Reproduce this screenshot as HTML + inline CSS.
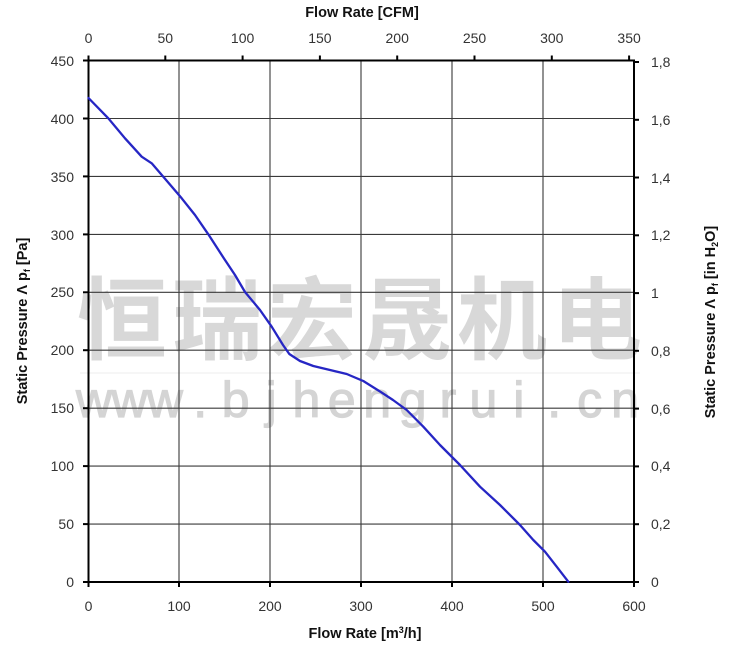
<!DOCTYPE html>
<html><head><meta charset="utf-8"><style>
html,body{margin:0;padding:0;background:#fff;}
svg{display:block;}
text{font-family:"Liberation Sans",Arial,sans-serif;}
</style></head><body>
<svg width="750" height="646" viewBox="0 0 750 646" xmlns="http://www.w3.org/2000/svg">
<rect width="750" height="646" fill="#fff"/>
<!-- watermark -->
<text y="352" font-size="90" font-weight="bold" fill="#d8d8d8" text-anchor="middle" style="font-family:'Noto Sans CJK SC','WenQuanYi Zen Hei',sans-serif" x="122 217 312 407 502 597">恒瑞宏晟机电</text>
<line x1="80" y1="373" x2="640" y2="373" stroke="#ececec" stroke-width="1"/>
<text y="417" font-size="50" fill="#d4d4d4" stroke="#d4d4d4" stroke-width="1.2" text-anchor="middle" x="94 129.4 164.8 200.2 235.6 271 306.4 341.8 377.2 412.6 448 483.4 518.8 554.2 589.6 625">www.bjhengrui.cn</text>
<!-- grid -->
<g stroke="#3a3a3a" stroke-width="1.1">
<line x1="179" y1="60.5" x2="179" y2="582"/>
<line x1="270" y1="60.5" x2="270" y2="582"/>
<line x1="361" y1="60.5" x2="361" y2="582"/>
<line x1="452" y1="60.5" x2="452" y2="582"/>
<line x1="543" y1="60.5" x2="543" y2="582"/>
<line x1="88" y1="524.1" x2="634" y2="524.1"/>
<line x1="88" y1="466.1" x2="634" y2="466.1"/>
<line x1="88" y1="408.2" x2="634" y2="408.2"/>
<line x1="88" y1="350.2" x2="634" y2="350.2"/>
<line x1="88" y1="292.3" x2="634" y2="292.3"/>
<line x1="88" y1="234.4" x2="634" y2="234.4"/>
<line x1="88" y1="176.4" x2="634" y2="176.4"/>
<line x1="88" y1="118.5" x2="634" y2="118.5"/>
</g>
<!-- frame -->
<rect x="88.5" y="60.5" width="545.5" height="521.5" fill="none" stroke="#000" stroke-width="2"/>
<g stroke="#000" stroke-width="2">
<line x1="83" y1="60.5" x2="88" y2="60.5"/>
<line x1="83" y1="118.5" x2="88" y2="118.5"/>
<line x1="83" y1="176.4" x2="88" y2="176.4"/>
<line x1="83" y1="234.4" x2="88" y2="234.4"/>
<line x1="83" y1="292.3" x2="88" y2="292.3"/>
<line x1="83" y1="350.2" x2="88" y2="350.2"/>
<line x1="83" y1="408.2" x2="88" y2="408.2"/>
<line x1="83" y1="466.1" x2="88" y2="466.1"/>
<line x1="83" y1="524.1" x2="88" y2="524.1"/>
<line x1="83" y1="582" x2="88" y2="582"/>
<line x1="88.5" y1="582" x2="88.5" y2="587"/>
<line x1="179" y1="582" x2="179" y2="587"/>
<line x1="270" y1="582" x2="270" y2="587"/>
<line x1="361" y1="582" x2="361" y2="587"/>
<line x1="452" y1="582" x2="452" y2="587"/>
<line x1="543" y1="582" x2="543" y2="587"/>
<line x1="634" y1="582" x2="634" y2="587"/>
<line x1="88.5" y1="55.5" x2="88.5" y2="60.5"/>
<line x1="165.3" y1="55.5" x2="165.3" y2="60.5"/>
<line x1="242.6" y1="55.5" x2="242.6" y2="60.5"/>
<line x1="319.9" y1="55.5" x2="319.9" y2="60.5"/>
<line x1="397.2" y1="55.5" x2="397.2" y2="60.5"/>
<line x1="474.5" y1="55.5" x2="474.5" y2="60.5"/>
<line x1="551.8" y1="55.5" x2="551.8" y2="60.5"/>
<line x1="629.1" y1="55.5" x2="629.1" y2="60.5"/>
<line x1="634" y1="62" x2="639" y2="62"/>
<line x1="634" y1="119.8" x2="639" y2="119.8"/>
<line x1="634" y1="177.5" x2="639" y2="177.5"/>
<line x1="634" y1="235.3" x2="639" y2="235.3"/>
<line x1="634" y1="293.1" x2="639" y2="293.1"/>
<line x1="634" y1="350.8" x2="639" y2="350.8"/>
<line x1="634" y1="408.6" x2="639" y2="408.6"/>
<line x1="634" y1="466.4" x2="639" y2="466.4"/>
<line x1="634" y1="524.2" x2="639" y2="524.2"/>
<line x1="634" y1="582" x2="639" y2="582"/>
</g>
<!-- curve -->
<polyline fill="none" stroke="#2626c4" stroke-width="2.3" stroke-linejoin="round" stroke-linecap="round"
points="88.5,98 108.3,118.3 125,138.3 141.7,156.7 151.7,163.3 163.3,176.7 181.7,198.3 195,215 208.3,234.3 224,258.5 235,275 245,292 260,310 271.7,326.7 283,345 289.3,354 300,361 313.3,366 330,370 346.7,374 363.3,381 380,391.5 393,400 406.7,410 423.3,426.7 440,445 460,465 480,486.7 500,505 520,525 533.3,540 545,551.7 556.7,566.7 568.3,581.7"/>
<g font-size="14" fill="#333" text-anchor="end">
<text x="74" y="66">450</text>
<text x="74" y="124">400</text>
<text x="74" y="182">350</text>
<text x="74" y="240">300</text>
<text x="74" y="297">250</text>
<text x="74" y="355">200</text>
<text x="74" y="413">150</text>
<text x="74" y="471">100</text>
<text x="74" y="529">50</text>
<text x="74" y="587">0</text>
</g>
<g font-size="14" fill="#333" text-anchor="middle">
<text x="88.5" y="611">0</text>
<text x="179" y="611">100</text>
<text x="270" y="611">200</text>
<text x="361" y="611">300</text>
<text x="452" y="611">400</text>
<text x="543" y="611">500</text>
<text x="634" y="611">600</text>
</g>
<g font-size="14" fill="#333" text-anchor="middle">
<text x="88.5" y="43">0</text>
<text x="165.3" y="43">50</text>
<text x="242.6" y="43">100</text>
<text x="319.9" y="43">150</text>
<text x="397.2" y="43">200</text>
<text x="474.5" y="43">250</text>
<text x="551.8" y="43">300</text>
<text x="629.1" y="43">350</text>
</g>
<g font-size="14" fill="#333">
<text x="651" y="67">1,8</text>
<text x="651" y="125">1,6</text>
<text x="651" y="183">1,4</text>
<text x="651" y="240">1,2</text>
<text x="651" y="298">1</text>
<text x="651" y="356">0,8</text>
<text x="651" y="414">0,6</text>
<text x="651" y="471">0,4</text>
<text x="651" y="529">0,2</text>
<text x="651" y="587">0</text>
</g>
<text x="362" y="17" font-size="14.5" font-weight="bold" fill="#111" text-anchor="middle">Flow Rate [CFM]</text>
<text x="365" y="638" font-size="14.5" font-weight="bold" fill="#111" text-anchor="middle">Flow Rate [m<tspan font-size="9" dy="-5">3</tspan><tspan dy="5">/h]</tspan></text>
<text transform="translate(27,321) rotate(-90)" font-size="14.5" font-weight="bold" fill="#111" text-anchor="middle">Static Pressure Λ p<tspan font-size="9" dy="3">f</tspan><tspan dy="-3"> [Pa]</tspan></text>
<text transform="translate(715,322) rotate(-90)" font-size="14.5" font-weight="bold" fill="#111" text-anchor="middle">Static Pressure Λ p<tspan font-size="9" dy="3">f</tspan><tspan dy="-3"> [in H</tspan><tspan font-size="9" dy="3">2</tspan><tspan dy="-3">O]</tspan></text>
</svg>
</body></html>
